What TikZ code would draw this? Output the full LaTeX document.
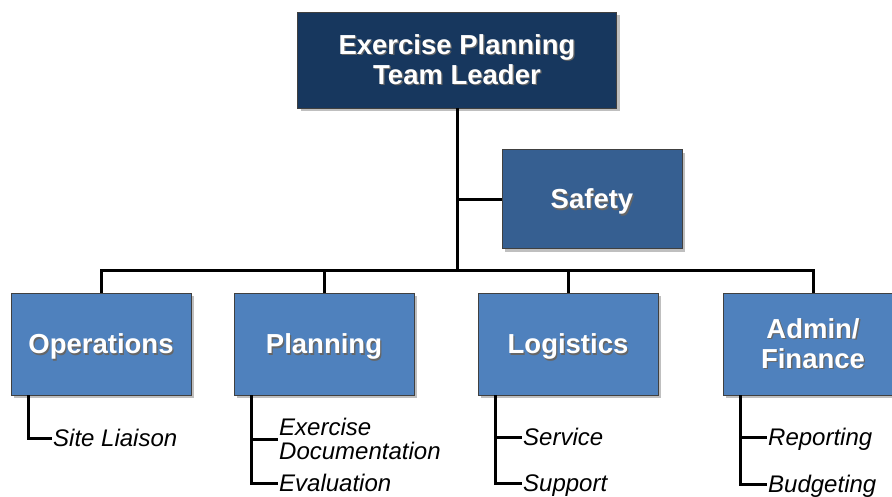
\documentclass[tikz,border=0pt]{standalone}
\usepackage{fontspec}
\setmainfont{Liberation Sans}
\usepackage{tikz}
\usetikzlibrary{positioning, calc, shadows}

\definecolor{leadblue}{HTML}{17375E}
\definecolor{safetyblue}{HTML}{365F91}
\definecolor{unitblue}{HTML}{4F81BD}
\newcommand{\shd}[1]{\leavevmode\rlap{\kern1.3pt\raisebox{-1.3pt}{\color{black!60}#1}}#1}

\begin{document}
\begin{tikzpicture}[x=1pt, y=-1pt,
    unit/.style={draw=black!75, line width=0.8pt, fill=unitblue, text=white,
                 minimum width=180pt, minimum height=102pt, align=center, inner sep=0pt,
                 font=\fontsize{27.5}{30}\selectfont\bfseries,
                 drop shadow={shadow xshift=3pt, shadow yshift=-3pt, fill=black!50, opacity=0.5}},
    oneline/.style={text height=19.7pt, text depth=0pt},
    link/.style={line width=3pt, black},
    itemtxt/.style={anchor=west, inner sep=1pt, align=left,
                    font=\fontsize{24}{23.5}\selectfont\itshape},
    item/.style={itemtxt, text height=17.2pt, text depth=0pt},
]
\useasboundingbox (0,0) rectangle (892,496);

% --- Boxes: leader on top, safety to the side, four sections in a row ---
\node[unit, fill=leadblue, minimum width=319pt, minimum height=96pt] (lead) at (457,60)
     {\shd{Exercise Planning}\\\shd{Team Leader}};
\node[unit, oneline, fill=safetyblue, minimum height=99pt] (safety) at (592,199) {\shd{Safety}};
\node[unit, oneline] (ops)   at (101,344) {\shd{Operations}};
\node[unit, oneline] (plan)  at (324,344) {\shd{Planning}};
\node[unit, oneline] (logi)  at (568,344) {\shd{Logistics}};
\node[unit] (admin) at (813,344) {\shd{Admin/}\\\shd{Finance}};

% --- Sub-items ---
\coordinate (opsstem)   at ($(ops.south west)+(18,0)$);
\coordinate (planstem)  at ($(plan.south west)+(18,0)$);
\coordinate (logistem)  at ($(logi.south west)+(18,0)$);
\coordinate (adminstem) at ($(admin.south west)+(18,0)$);

\node[item] (liaison)   at (52,438)  {Site Liaison};
\node[itemtxt] (docs)   at (278,439) {Exercise\\Documentation};
\node[item] (evaluation) at (278,483) {Evaluation};
\node[item] (service)   at (522,437) {Service};
\node[item] (support)   at (522,483) {Support};
\node[item] (reporting) at (767,437) {Reporting};
\node[item] (budgeting) at (767,484) {Budgeting};

% ===================== EDGES =====================

% Leader -> bus
\coordinate (bus) at (457,270);
\draw[link] (lead.south) -- (bus);

% Bus -> the four sections
\draw[link] (ops.north) |- (bus) -| (admin.north);
\draw[link] (plan.north) -- (plan.north |- bus);
\draw[link] (logi.north) -- (logi.north |- bus);

% Trunk -> Safety
\draw[link] (safety.west) -- (safety.west -| lead.south);

% Sections -> sub-items
\draw[link] (opsstem) |- (liaison.west);
\draw[link] (planstem) |- (evaluation.west);
\draw[link] (planstem |- docs.west) -- (docs.west);
\draw[link] (logistem) |- (support.west);
\draw[link] (logistem |- service.west) -- (service.west);
\draw[link] (adminstem) |- (budgeting.west);
\draw[link] (adminstem |- reporting.west) -- (reporting.west);

\end{tikzpicture}
\end{document}
